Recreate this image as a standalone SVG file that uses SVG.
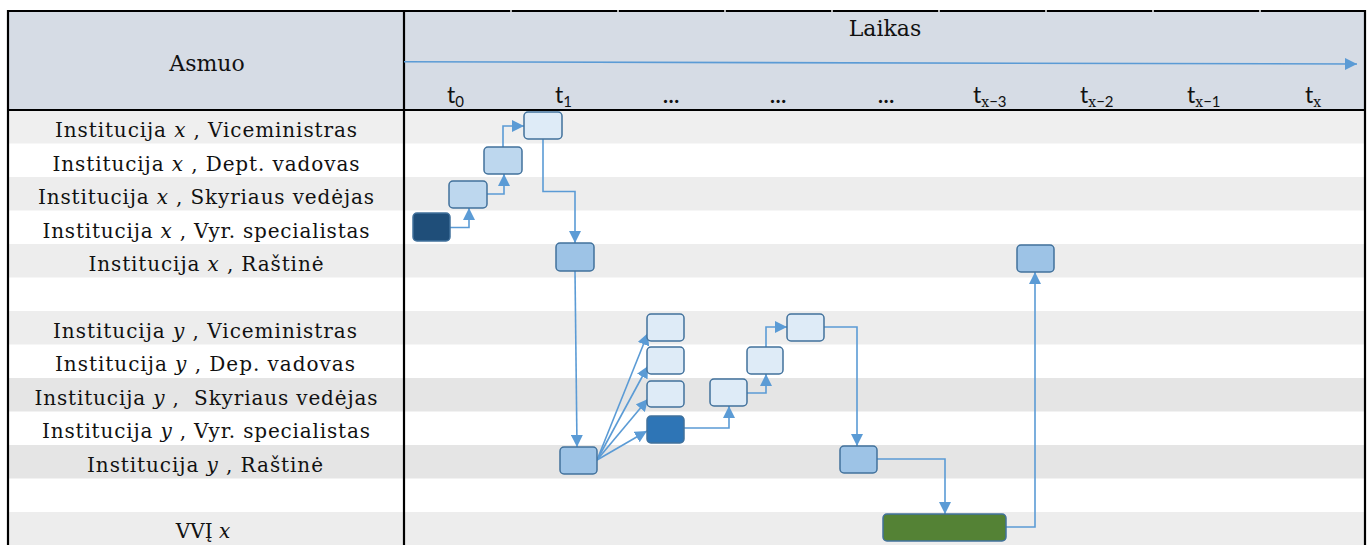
<svg xmlns="http://www.w3.org/2000/svg" width="1370" height="545" viewBox="0 0 1370 545">
<style>
.lbl{font-family:"DejaVu Serif","Liberation Serif",serif;font-size:20px;fill:#111;text-anchor:middle}
.hd{font-family:"DejaVu Serif","Liberation Serif",serif;font-size:22px;fill:#111;text-anchor:middle}
.it{font-style:italic}
.tl{font-family:Lato,"Liberation Sans",sans-serif;font-size:23px;fill:#111}
.dots{font-weight:bold;font-size:21px}
.sub{font-size:15px}
.subx{font-family:"DejaVu Serif",serif;font-size:14px}
.g1{fill:#ededed}
.g2{fill:#e5e5e5}
.node{stroke:#41719c;stroke-width:1.5}
.c{fill:none;stroke:#5b9bd5;stroke-width:1.6}
.bd{stroke:#000;stroke-width:2.2;fill:none}
</style>
<defs>
<marker id="ah" viewBox="0 0 12 12" refX="12" refY="6" markerWidth="12" markerHeight="12" markerUnits="userSpaceOnUse" orient="auto">
<path d="M0,0 L12,6 L0,12 z" fill="#5b9bd5"/>
</marker>
</defs>
<rect width="1370" height="545" fill="#fff"/>
<!-- header background -->
<rect x="8" y="11" width="1357" height="99" fill="#d6dce5"/>
<!-- row stripes -->
<g id="rows">
<rect x="8" y="110" width="1357" height="33.5" fill="#efefef"/>
<rect class="g1" x="8" y="177" width="1357" height="33.5"/>
<rect class="g1" x="8" y="244" width="1357" height="33.5"/>
<rect class="g1" x="8" y="311" width="1357" height="33.5"/>
<rect class="g2" x="8" y="378" width="1357" height="33.5"/>
<rect class="g2" x="8" y="445" width="1357" height="33.5"/>
<rect class="g1" x="8" y="512" width="1357" height="33.5"/>
</g>
<!-- borders -->
<g id="borders">
<path class="bd" d="M8,545 V11 H1365 V545"/>
<line class="bd" x1="8" y1="110" x2="1365" y2="110" stroke-width="2.6"/>
<line class="bd" x1="404" y1="11" x2="404" y2="545"/>
<g fill="#b8b8b8">
<rect x="510" y="10" width="2" height="2"/>
<rect x="617" y="10" width="2" height="2"/>
<rect x="724" y="10" width="2" height="2"/>
<rect x="831" y="10" width="2" height="2"/>
<rect x="938" y="10" width="2" height="2"/>
<rect x="1045" y="10" width="2" height="2"/>
<rect x="1152" y="10" width="2" height="2"/>
<rect x="1259" y="10" width="2" height="2"/>
</g>
</g>
<!-- header texts -->
<g id="header">
<text class="hd" x="207" y="71">Asmuo</text>
<text class="hd" x="885" y="36">Laikas</text>
<line class="c" x1="404" y1="61.8" x2="1357" y2="64" marker-end="url(#ah)"/>
<text class="tl" x="447" y="103">t<tspan class="sub" dy="4">0</tspan></text>
<text class="tl" x="555" y="103">t<tspan class="sub" dy="4">1</tspan></text>
<text class="tl dots" x="671" y="103" text-anchor="middle">…</text>
<text class="tl dots" x="778" y="103" text-anchor="middle">…</text>
<text class="tl dots" x="886" y="103" text-anchor="middle">…</text>
<text class="tl" x="973" y="103">t<tspan class="subx" dy="4">x</tspan><tspan class="sub">−3</tspan></text>
<text class="tl" x="1080" y="103">t<tspan class="subx" dy="4">x</tspan><tspan class="sub">−2</tspan></text>
<text class="tl" x="1187" y="103">t<tspan class="subx" dy="4">x</tspan><tspan class="sub">−1</tspan></text>
<text class="tl" x="1305" y="103">t<tspan class="subx" dy="4">x</tspan></text>
</g>
<!-- row labels -->
<g id="labels">
<text class="lbl" x="206" y="137" textLength="302">Institucija <tspan class="it">x</tspan> , Viceministras</text>
<text class="lbl" x="206" y="170.5" textLength="307">Institucija <tspan class="it">x</tspan> , Dept. vadovas</text>
<text class="lbl" x="206" y="204" textLength="336">Institucija <tspan class="it">x</tspan> , Skyriaus vedėjas</text>
<text class="lbl" x="206" y="237.5" textLength="327">Institucija <tspan class="it">x</tspan> , Vyr. specialistas</text>
<text class="lbl" x="206" y="271" textLength="235">Institucija <tspan class="it">x</tspan> , Raštinė</text>
<text class="lbl" x="205" y="337.5" textLength="304">Institucija <tspan class="it">y</tspan> , Viceministras</text>
<text class="lbl" x="205" y="371" textLength="300">Institucija <tspan class="it">y</tspan> , Dep. vadovas</text>
<text class="lbl" x="206" y="404.5" textLength="343" xml:space="preserve">Institucija <tspan class="it">y</tspan> ,  Skyriaus vedėjas</text>
<text class="lbl" x="206" y="438" textLength="328">Institucija <tspan class="it">y</tspan> , Vyr. specialistas</text>
<text class="lbl" x="205" y="471.5" textLength="236">Institucija <tspan class="it">y</tspan> , Raštinė</text>
<text class="lbl" x="203" y="538">VVĮ <tspan class="it">x</tspan></text>
</g>
<!-- connectors -->
<g id="connectors">
<path class="c" d="M450,227.5 H469 V208" marker-end="url(#ah)"/>
<path class="c" d="M487,194 H504 V174" marker-end="url(#ah)"/>
<path class="c" d="M503,147 V126 H524" marker-end="url(#ah)"/>
<path class="c" d="M543,139 V191.5 H575 V243" marker-end="url(#ah)"/>
<path class="c" d="M575,271 L577,447" marker-end="url(#ah)"/>
<path class="c" d="M597,460 L648,333" marker-end="url(#ah)"/>
<path class="c" d="M597,460 L648,366" marker-end="url(#ah)"/>
<path class="c" d="M597,460 L648,399" marker-end="url(#ah)"/>
<path class="c" d="M597,460 L647,431" marker-end="url(#ah)"/>
<path class="c" d="M684,428 H729 V406" marker-end="url(#ah)"/>
<path class="c" d="M747,393 H766 V374" marker-end="url(#ah)"/>
<path class="c" d="M766,347 V327 H787" marker-end="url(#ah)"/>
<path class="c" d="M824,327 H857 V446" marker-end="url(#ah)"/>
<path class="c" d="M877,459 H945 V514" marker-end="url(#ah)"/>
<path class="c" d="M1006,527 H1035 V272" marker-end="url(#ah)"/>
</g>
<!-- nodes -->
<g id="n1"><rect class="node" x="413" y="213" width="37" height="28" rx="4" fill="#1f4e79"/></g>
<g id="n2"><rect class="node" x="449" y="181" width="38" height="27" rx="4" fill="#bdd7ee"/></g>
<g id="n3"><rect class="node" x="484" y="147" width="38" height="27" rx="4" fill="#bdd7ee"/></g>
<g id="n4"><rect class="node" x="524" y="112" width="38" height="27" rx="4" fill="#deebf7"/></g>
<g id="n5"><rect class="node" x="556" y="243" width="38" height="28" rx="4" fill="#9dc3e6"/></g>
<g id="n6"><rect class="node" x="560" y="447" width="37" height="27" rx="4" fill="#9dc3e6"/></g>
<g id="n7"><rect class="node" x="647" y="314" width="37" height="27" rx="4" fill="#deebf7"/></g>
<g id="n8"><rect class="node" x="647" y="347" width="37" height="27" rx="4" fill="#deebf7"/></g>
<g id="n9"><rect class="node" x="647" y="381" width="37" height="26" rx="4" fill="#deebf7"/></g>
<g id="n10"><rect class="node" x="647" y="416" width="37" height="27" rx="4" fill="#2e75b6"/></g>
<g id="n11"><rect class="node" x="710" y="379" width="37" height="27" rx="4" fill="#deebf7"/></g>
<g id="n12"><rect class="node" x="747" y="347" width="36" height="27" rx="4" fill="#deebf7"/></g>
<g id="n13"><rect class="node" x="787" y="314" width="37" height="27" rx="4" fill="#deebf7"/></g>
<g id="n14"><rect class="node" x="840" y="446" width="37" height="27" rx="4" fill="#9dc3e6"/></g>
<g id="n15"><rect class="node" x="1017" y="245" width="37" height="27" rx="4" fill="#9dc3e6"/></g>
<g id="n16"><rect class="node" x="883" y="514" width="123" height="27" rx="4" fill="#548235"/></g>
</svg>
